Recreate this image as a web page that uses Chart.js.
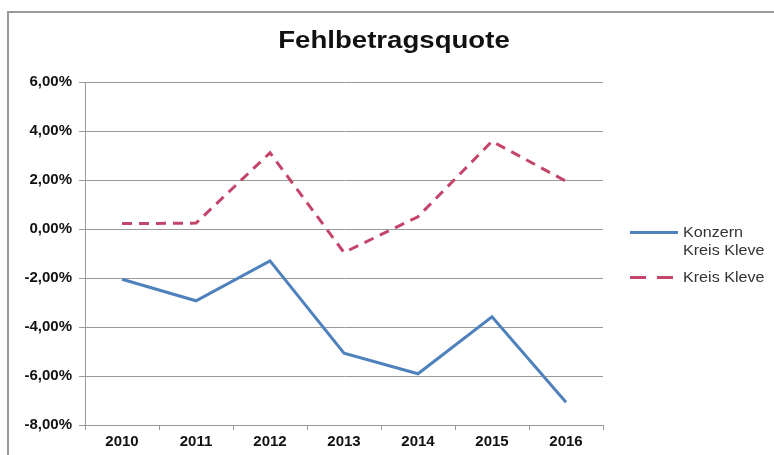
<!DOCTYPE html>
<html>
<head>
<meta charset="utf-8">
<script src="https://cdn.jsdelivr.net/npm/chart.js@4"></script>
<style>
  html, body { margin: 0; padding: 0; background: #fff; }
  #wrap { position: relative; width: 774px; height: 455px; overflow: hidden; }
  #frame { position: absolute; left: 7px; top: 11px; width: 800px; height: 500px;
           border-left: 2px solid #9a9a9a; border-top: 2px solid #9a9a9a; }
  canvas { position: absolute; left: 0; top: 0; }
  .leg { position: absolute; font-family: "Liberation Sans", Arial, sans-serif; font-size: 14px;
         color: #333; line-height: 18px; transform: scaleX(1.15); transform-origin: 0 0; }
  .sw { position: absolute; height: 0; }
  #title { position: absolute; left: 0; width: 788px; top: 27px; text-align: center;
           font-family: "Liberation Sans", Arial, sans-serif; font-weight: bold; font-size: 23px;
           color: #111; transform: scaleX(1.2); transform-origin: 394px 0; line-height: 27px; }
</style>
</head>
<body>
<div id="wrap">
  <div id="frame"></div>
  <canvas id="c" width="774" height="455"></canvas>
  <div id="title"></div>
  <div class="sw" style="left:630px; top:231px; width:48px; border-top:3px solid #4F81BD;"></div>
  <div class="leg" id="leg1" style="left:683px; top:223px;"></div>
  <div class="sw" style="left:630px; top:276px; width:16px; border-top:3px solid #C4456A;"></div>
  <div class="sw" style="left:657px; top:276px; width:16px; border-top:3px solid #C4456A;"></div>
  <div class="leg" id="leg2" style="left:683px; top:268px;"></div>
</div>
<script>
const categories = ["2010", "2011", "2012", "2013", "2014", "2015", "2016"];
const konzernKreisKleve = [-2.05, -2.93, -1.30, -5.07, -5.91, -3.58, -7.07];
const kreisKleve = [0.22, 0.24, 3.11, -0.96, 0.50, 3.58, 1.95];
const seriesNames = ["Konzern Kreis Kleve", "Kreis Kleve"];
const yTicks = [-8, -6, -4, -2, 0, 2, 4, 6];
const titleText = "Fehlbetragsquote";

document.getElementById('title').textContent = titleText;
document.getElementById('leg1').innerHTML = "Konzern<br>Kreis Kleve";
document.getElementById('leg2').textContent = seriesNames[1];

const fontFamily = '"Liberation Sans", Arial, sans-serif';

new Chart(document.getElementById('c'), {
  type: 'line',
  data: {
    labels: categories,
    datasets: [
      { label: seriesNames[0], data: konzernKreisKleve, borderColor: '#4F81BD', borderWidth: 3,
        pointRadius: 0, tension: 0, fill: false },
      { label: seriesNames[1], data: kreisKleve, borderColor: '#C4456A', borderWidth: 3,
        borderDash: [10, 7], pointRadius: 0, tension: 0, fill: false }
    ]
  },
  options: {
    responsive: false,
    animation: false,
    layout: { padding: { left: 0, right: 171, top: 82, bottom: 0 } },
    plugins: {
      legend: { display: false },
      tooltip: { enabled: false },
      title: { display: false }
    },
    scales: {
      x: {
        offset: true,
        grid: { display: true, drawOnChartArea: false, drawTicks: true, tickLength: 5,
                offset: true, color: '#9a9a9a' },
        border: { color: '#9a9a9a', width: 1 },
        ticks: { color: '#111', font: { family: fontFamily, size: 15, weight: 'bold' }, padding: 3,
                 maxRotation: 0 },
        afterFit: (s) => { s.height = 30; }
      },
      y: {
        min: -8, max: 6,
        afterBuildTicks: (s) => { s.ticks = yTicks.map(v => ({ value: v })); },
        grid: { color: '#9a9a9a', tickLength: 6, lineWidth: 1 },
        border: { color: '#9a9a9a', width: 1 },
        ticks: {
          color: '#111', font: { family: fontFamily, size: 15, weight: 'bold' }, padding: 7,
          callback: (v) => v.toFixed(2).replace('.', ',') + '%'
        },
        afterFit: (s) => { s.width = 85; }
      }
    }
  }
});
</script>
</body>
</html>
